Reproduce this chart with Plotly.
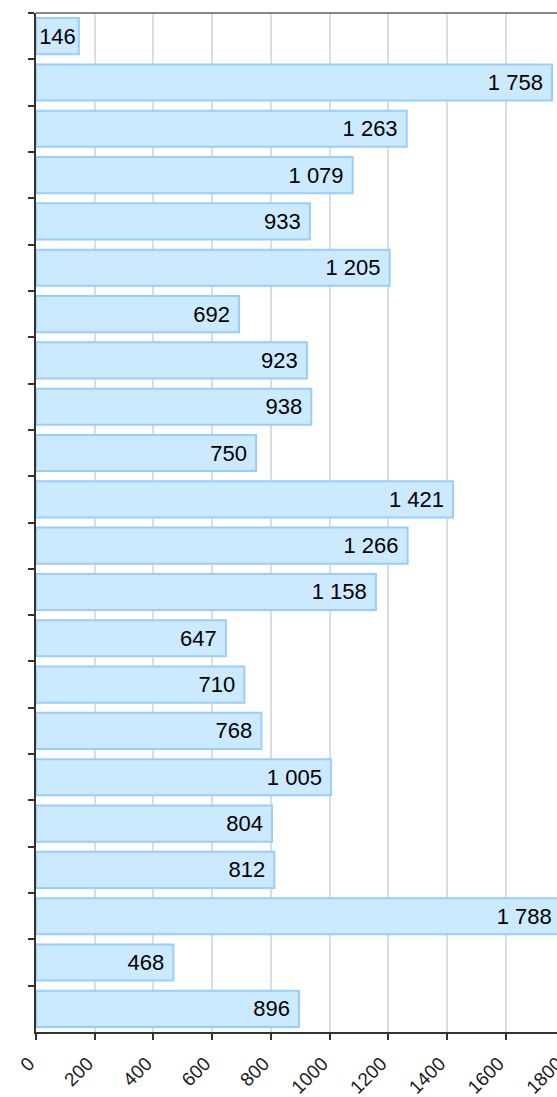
import plotly.graph_objects as go

categories = [f"C{i+1}" for i in range(22)]
values = [146, 1758, 1263, 1079, 933, 1205, 692, 923, 938, 750, 1421,
          1266, 1158, 647, 710, 768, 1005, 804, 812, 1788, 468, 896]
x_ticks = [0, 200, 400, 600, 800, 1000, 1200, 1400, 1600, 1800]


def fmt(v):
    s = f"{v:,}".replace(",", " ")
    return s + "\u00a0" if v > 300 else s


labels = [fmt(v) for v in values]

fig = go.Figure(
    go.Bar(
        y=categories,
        x=values,
        orientation="h",
        text=labels,
        textposition="inside",
        insidetextanchor="end",
        constraintext="none",
        textfont=dict(family="Arial, Liberation Sans, sans-serif", size=22, color="#000"),
        marker=dict(color="#cceaff", line=dict(color="#99ccff", width=2)),
        hoverinfo="skip",
    )
)

fig.update_layout(
    width=579,
    height=1097,
    margin=dict(l=36, r=0, t=13, b=65),
    plot_bgcolor="white",
    paper_bgcolor="white",
    bargap=0.22,
    showlegend=False,
    font=dict(family="Arial, Liberation Sans, sans-serif", color="#222"),
    xaxis=dict(
        range=[0, 1850],
        automargin=False,
        tickvals=x_ticks,
        ticktext=[str(t) for t in x_ticks],
        tickangle=-45,
        tickfont=dict(size=19, color="#1a1a1a"),
        ticklabelstandoff=5,
        ticklabelshift=-7,
        showgrid=True,
        gridcolor="#dddddd",
        gridwidth=2,
        showline=True,
        linecolor="#333",
        linewidth=2,
        ticks="outside",
        ticklen=6,
        tickwidth=2,
        tickcolor="#333",
        zeroline=False,
    ),
    yaxis=dict(
        autorange="reversed",
        automargin=False,
        showticklabels=False,
        showgrid=False,
        showline=True,
        linecolor="#333",
        linewidth=2,
        ticks="outside",
        tickson="boundaries",
        ticklen=6,
        tickwidth=2,
        tickcolor="#333",
        zeroline=False,
    ),
    shapes=[dict(type="line", xref="paper", yref="paper", x0=0, x1=1, y0=1, y1=1,
                 line=dict(color="#888", width=2))],
)

fig.write_html(
    "out.html",
    config={"displayModeBar": False},
    post_script="document.body.style.margin='0';document.body.style.overflow='hidden';"
                "document.documentElement.style.overflow='hidden';",
)
